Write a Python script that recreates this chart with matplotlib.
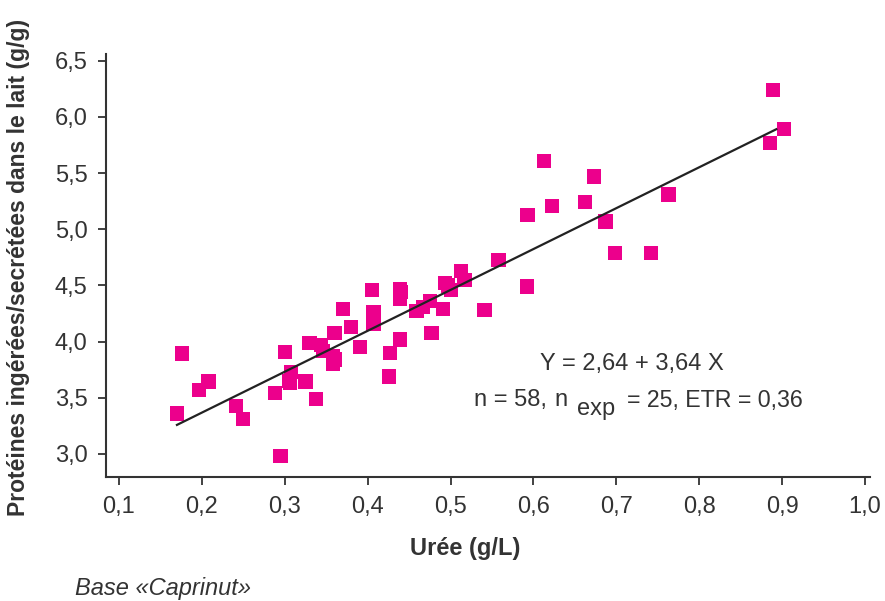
import matplotlib
matplotlib.use('Agg')
from matplotlib import pyplot as plt
import numpy as np

plt.rcParams['font.family'] = ['Liberation Sans', 'DejaVu Sans']

# urée (g/L)
uree = [0.170, 0.176, 0.197, 0.208, 0.241, 0.250, 0.288, 0.295, 0.300, 0.306,
        0.308, 0.325, 0.338, 0.330, 0.344, 0.346, 0.358, 0.358, 0.360, 0.370,
        0.380, 0.391, 0.405, 0.407, 0.407, 0.427, 0.426, 0.439, 0.439, 0.439,
        0.459, 0.467, 0.475, 0.477, 0.491, 0.493, 0.501, 0.513, 0.517, 0.541,
        0.558, 0.592, 0.593, 0.613, 0.622, 0.662, 0.673, 0.687, 0.698, 0.742,
        0.763, 0.885, 0.889, 0.902, 0.305, 0.360, 0.440, 0.497]
# protéines ingérées / secrétées (g/g)
ratio = [3.36, 3.895, 3.57, 3.645, 3.43, 3.31, 3.54, 2.98, 3.91, 3.63,
         3.73, 3.645, 3.49, 3.99, 3.97, 3.92, 3.87, 3.80, 4.08, 4.29,
         4.13, 3.95, 4.46, 4.26, 4.16, 3.90, 3.69, 4.02, 4.47, 4.38,
         4.27, 4.31, 4.36, 4.08, 4.29, 4.52, 4.46, 4.63, 4.55, 4.28,
         4.73, 4.49, 5.13, 5.61, 5.21, 5.24, 5.47, 5.07, 4.79, 4.79,
         5.31, 5.77, 6.24, 5.89, 3.65, 3.84, 4.44, 4.50]

intercept, slope = 2.64, 3.64
fit_x = [0.17, 0.893]

x_ticks = [0.1, 0.2, 0.3, 0.4, 0.5, 0.6, 0.7, 0.8, 0.9, 1.0]
y_ticks = [3.0, 3.5, 4.0, 4.5, 5.0, 5.5, 6.0, 6.5]

pink = '#ec008c'
grey = '#333333'

fig = plt.figure(figsize=(8.85, 6.01), dpi=100)
ax = fig.add_axes([0.1194, 0.2063, 0.8636, 0.7038])

ax.scatter(uree, ratio, marker='s', s=105, color=pink, edgecolors='none', zorder=2)
fx = np.array(fit_x)
ax.plot(fx, intercept + slope * fx, color='#222222', lw=1.6, zorder=3)

ax.set_xlim(0.084, 1.006)
ax.set_ylim(2.795, 6.56)
ax.set_xticks(x_ticks)
ax.set_yticks(y_ticks)
ax.set_xticklabels([('%.1f' % v).replace('.', ',') for v in x_ticks])
ax.set_yticklabels([('%.1f' % v).replace('.', ',') for v in y_ticks])
ax.tick_params(direction='out', length=6, width=1.3, colors=grey, labelsize=17)
ax.tick_params(axis='y', pad=7)
ax.tick_params(axis='x', pad=8)

for s in ['top', 'right']:
    ax.spines[s].set_visible(False)
for s in ['left', 'bottom']:
    ax.spines[s].set_color(grey)
    ax.spines[s].set_linewidth(1.5)

ax.set_xlabel('Urée (g/L)', fontsize=17, fontweight='bold', color=grey, va='center')
ax.set_ylabel('Protéines ingérées/secrétées dans le lait (g/g)', fontsize=16.5,
              fontweight='bold', color=grey, va='center')
ax.xaxis.set_label_coords(0.47, -0.168)
ax.yaxis.set_label_coords(-0.1147, 0.496)

# equation
W, H = 885.0, 601.0
fig.text(632 / W, 1 - 364 / H, 'Y = 2,64 + 3,64 X', fontsize=17, color=grey,
         ha='center', va='center')
fig.text(474 / W, 1 - 400 / H, 'n = 58,', fontsize=17, color=grey, ha='left', va='center')
fig.text(554 / W, 1 - 400 / H, 'n', fontsize=17, color=grey, ha='left', va='center')
fig.text(577 / W, 1 - 409 / H, 'exp', fontsize=17, color=grey, ha='left', va='center')
fig.text(803 / W, 1 - 400 / H, '= 25, ETR = 0,36', fontsize=16.7, color=grey, ha='right', va='center')

fig.text(75 / W, 1 - 588 / H, 'Base «Caprinut»', fontsize=17, style='italic', color=grey,
         ha='left', va='center')

plt.savefig('out.png', dpi=100)
plt.close()
